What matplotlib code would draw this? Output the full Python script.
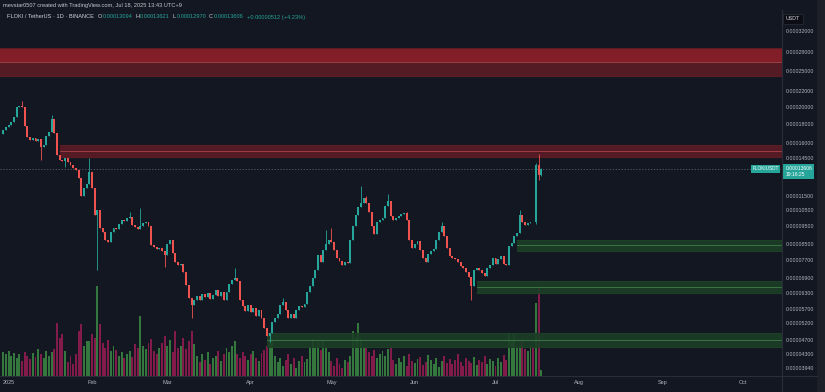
import numpy as np
import matplotlib
matplotlib.use('Agg')
import matplotlib.pyplot as plt
import matplotlib.dates as mdates
from matplotlib.ticker import FixedLocator, NullLocator
from matplotlib.patches import Rectangle

plt.rcParams['font.family'] = ['Liberation Sans', 'DejaVu Sans']

# daily candles FLOKI/USDT, 2024-12-30 .. 2025-07-18, prices in 1e-8 USDT
start_day = '2024-12-30'
first_open = 16900
close_e8 = [
    17300, 17630, 17850, 18180, 18760, 19960, 20090, 19960, 17740, 16560,
    16250, 16460, 16150, 16350, 15560, 15760, 16670, 17090, 18520, 16980,
    14810, 14355, 14270, 14540, 14180, 13920, 13660, 13490, 12840, 11480,
    12060, 12370, 13330, 12060, 10200, 10520, 9410, 9180, 8730, 8630,
    9180, 9410, 9350, 9650, 9885, 9820, 10010, 10075, 9590, 9470,
    9350, 9530, 9710, 9770, 9530, 8465, 8360, 8260, 8310, 8155,
    7960, 8520, 8730, 8060, 7615, 7475, 7520, 7160, 6605, 6090,
    5830, 6015, 6170, 6015, 6245, 6130, 6285, 6055, 6210, 6400,
    6170, 6320, 6015, 6320, 6645, 6810, 6895, 6770, 6015, 5795,
    5620, 5830, 5585, 5725, 5450, 5652, 5380, 5055, 4810, 4900,
    5250, 5380, 5515, 5830, 5940, 5652, 5380, 5515, 5380, 5652,
    5795, 5760, 5870, 6320, 6565, 6895, 7245, 7960, 7615, 8205,
    8520, 8730, 8630, 8205, 7810, 7665, 7475, 7615, 7560, 8730,
    9530, 10200, 10720, 10990, 11340, 10990, 10390, 9530, 9065, 9770,
    9885, 10010, 10790, 11125, 10140, 9885, 10010, 10140, 10265, 10330,
    9885, 8730, 8310, 8520, 8680, 8205, 7810, 7615, 8005, 8155,
    8260, 8730, 9180, 9530, 8955, 8310, 7910, 7810, 7760, 7615,
    7430, 7335, 7160, 6940, 6565, 7245, 7335, 7245, 7115, 6985,
    7335, 7475, 7810, 7520, 7760, 7910, 7520, 7475, 8410, 8575,
    8955, 9120, 10200, 9770, 9590, 9710, 9770, 9740, 13900, 13094,
    13606,
]
# visible wicks (candle index from start_day, price in 1e-8)
wick_hi_idx = [7, 18, 32, 47, 51, 86, 104, 120, 122, 133, 135, 143, 150, 163, 192, 198, 199, 200]
wick_hi_val = [20710, 18990, 14540, 10395, 10660, 7335, 6090, 9290, 9410, 12220, 11480, 11625,
               10395, 9765, 10520, 14100, 14900, 13621]
wick_lo_idx = [14, 23, 35, 60, 70, 99, 174, 198, 199, 200]
wick_lo_val = [14355, 13750, 7245, 7385, 5380, 4630, 6015, 9650, 12700, 12970]

volume = [
    24, 22, 25, 20, 23, 18, 22, 15, 24, 20, 17, 23, 19, 27,
    22, 18, 25, 20, 24, 27, 53, 38, 42, 25, 14, 20, 12, 22,
    45, 52, 30, 35, 35, 42, 38, 90, 52,
    33, 28, 36, 25, 30, 26, 20, 24, 18, 22, 25, 19, 32, 28, 60,
    30, 27, 33, 37, 25, 22, 28, 33, 40, 30, 36, 24, 45, 28,
    30, 38, 27, 35, 45, 32, 20, 14, 22, 16, 24, 12, 18,
    20, 25, 15, 22, 28, 24, 30, 35, 22, 18, 24, 20, 16, 22, 25, 18, 15, 23, 26,
    30, 40, 37, 20, 14, 18, 10, 16, 22, 12, 18, 8, 15, 20, 14, 17,
    28, 37, 30, 34, 26, 36, 29, 24, 15, 10, 18, 12, 8, 16, 14, 20,
    45, 38, 53, 37, 30, 28, 24, 20, 26, 18, 22, 25, 20, 27, 30,
    16, 12, 18, 14, 20, 10, 22, 15, 13, 17, 19, 11, 14, 21, 16, 12, 18, 9, 15, 20,
    13, 17, 12, 16, 22, 14, 10, 18, 15, 13, 19, 11, 16, 14, 20, 12, 17, 15, 10, 18,
    14, 21, 16, 42, 35, 42, 28, 30, 35, 27, 25, 30, 28, 73, 90, 6,
]

ytick_vals = [32000, 28000, 25000, 22000, 20000, 18000, 16000, 14500, 11500, 10500, 9500,
              8500, 7700, 6900, 6300, 5700, 5200, 4700, 4300, 3940]
month_dates = ['2025-01-01', '2025-02-01', '2025-03-01', '2025-04-01', '2025-05-01',
               '2025-06-01', '2025-07-01', '2025-08-01', '2025-09-01', '2025-10-01']
month_labels = ['2025', 'Feb', 'Mar', 'Apr', 'May', 'Jun', 'Jul', 'Aug', 'Sep', 'Oct']

# supply / demand boxes: start date, low, high, mid line (1e-8 USDT)
zone_start = ['2024-12-20', '2025-01-20', '2025-07-09', '2025-06-24', '2025-04-07']
zone_lo = [24190, 14625, 8155, 6285, 4490]
zone_hi = [28790, 15760, 8730, 6770, 4896]
zone_mid = [26390, 15180, 8465, 6525, 4692]
zone_kind = ['red', 'red', 'green', 'green', 'green']

last_price = 13606
header_ohlc = [('O', '0.00013094'), ('H', '0.00013621'), ('L', '0.00012970'), ('C', '0.00013606')]
header_change = '+0.00000512 (+4.23%)'

BG = '#131722'
UP, DN = '#26a69a', '#ef5350'
VUP, VDN = '#3a8a42', '#961c52'
TXT = '#b2b5be'
LINE = '#2a2e39'

W, H = 825, 392
def rect(x0, y0, x1, y1):
    return [x0 / W, 1 - y1 / H, (x1 - x0) / W, (y1 - y0) / H]

fig = plt.figure(figsize=(8.25, 3.92), dpi=100, facecolor=BG)
axv = fig.add_axes(rect(0, 10, 782, 376))
ax = fig.add_axes(rect(0, 10, 782, 376))
axv.set_facecolor(BG)
ax.set_facecolor('none')

c = np.array(close_e8, dtype=float)
o = np.r_[first_open, c[:-1]]
hi = np.maximum(o, c)
lo = np.minimum(o, c)
hi[wick_hi_idx] = wick_hi_val
lo[wick_lo_idx] = wick_lo_val
x = mdates.date2num(np.datetime64(start_day) + np.arange(len(c)))
up = c >= o
col = np.where(up, UP, DN)

xl = (mdates.date2num(np.datetime64('2024-12-28')) + 0.8,
      mdates.date2num(np.datetime64('2025-10-15')) + 0.5)

# volume
axv.bar(x, volume, width=0.72, color=np.where(up, VUP, VDN), linewidth=0, alpha=0.85)
axv.set_xlim(xl)
axv.set_ylim(0, max(volume) * 4.07)
axv.axis('off')

# zones
for s, l0, h0, m0, k in zip(zone_start, zone_lo, zone_hi, zone_mid, zone_kind):
    xs = [mdates.date2num(np.datetime64(s)), xl[1]]
    if k == 'red':
        fc, lc = '#5c1c25', '#a8434b'
    else:
        fc, lc = '#1c3f26', '#3f7f4a'
    ax.fill_between(xs, l0 * 1e-8, h0 * 1e-8, color=fc, alpha=0.9, lw=0, zorder=1)
    for yv in (l0, h0):
        ax.plot(xs, [yv * 1e-8] * 2, color=fc, lw=0.8, zorder=1.5)
    ax.plot(xs, [m0 * 1e-8] * 2, color=lc, lw=0.6, zorder=1.6)
# brighter upper half of the top box
ax.fill_between([xl[0], xl[1]], zone_mid[0] * 1e-8, zone_hi[0] * 1e-8,
                color='#8e1f29', alpha=0.8, lw=0, zorder=1.2)

# candles
ax.vlines(x, lo * 1e-8, hi * 1e-8, colors=col, lw=0.6, zorder=3)
top = np.maximum(np.maximum(o, c), np.minimum(o, c) * 1.004)
bot = np.minimum(o, c)
ax.bar(x, (top - bot) * 1e-8, bottom=bot * 1e-8, width=0.72, color=col, linewidth=0, zorder=3)

# last price line
ax.axhline(last_price * 1e-8, color='#5d606b', lw=0.6, ls=(0, (1.5, 2)), zorder=2)

ax.set_yscale('log')
ax.set_xlim(xl)
ax.set_ylim(3750e-8, 36460e-8)
ax.yaxis.set_major_locator(FixedLocator([v * 1e-8 for v in ytick_vals]))
ax.yaxis.set_minor_locator(NullLocator())
ax.set_yticklabels([f'{v * 1e-8:.8f}' for v in ytick_vals])
ax.yaxis.tick_right()
ax.tick_params(axis='y', length=0, pad=2.5, labelsize=3.8, labelcolor=TXT)
ax.set_xticks([mdates.date2num(np.datetime64(d)) for d in month_dates])
ax.set_xticklabels(month_labels)
ax.tick_params(axis='x', length=0, pad=3, labelsize=4.0, labelcolor=TXT)
for sp in ax.spines.values():
    sp.set_visible(False)

# price tags
ax.annotate(f'{last_price * 1e-8:.8f}\n19:16:25', xy=(1, last_price * 1e-8),
            xycoords=('axes fraction', 'data'), xytext=(2.5, -2.0), textcoords='offset points',
            ha='left', va='center', fontsize=3.6, color='white', linespacing=1.3,
            bbox=dict(boxstyle='square,pad=0.4', fc=UP, ec='none'), zorder=6)
ax.annotate('FLOKIUSDT', xy=(1, last_price * 1e-8), xycoords=('axes fraction', 'data'),
            xytext=(-2.5, 0), textcoords='offset points', ha='right', va='center',
            fontsize=3.4, color='white',
            bbox=dict(boxstyle='square,pad=0.3', fc=UP, ec='none'), zorder=6)

# frame lines
fig.add_artist(plt.Line2D([782 / W] * 2, [0, 1 - 10 / H], color=LINE, lw=0.8))
fig.add_artist(plt.Line2D([0, 817 / W], [1 - 376 / H] * 2, color=LINE, lw=0.8))
fig.add_artist(Rectangle((817 / W, 0), 8 / W, 1, transform=fig.transFigure,
                         fc='#1e2029', ec='none'))
fig.text(786 / W, 1 - 19 / H, 'USDT', fontsize=3.8, color='#d1d4dc', va='center', ha='left',
         bbox=dict(boxstyle='square,pad=0.5', fc='#0c0e14', ec='#2a2e39', lw=0.5))

# header
fig.text(3 / W, 1 - 6 / H, 'mevstar0507 created with TradingView.com, Jul 18, 2025 13:43 UTC+9',
         fontsize=4.1, color='#c8cad0', va='center')
renderer = fig.canvas.get_renderer()
hy = 1 - 17 / H
pieces = [('FLOKI / TetherUS \u00b7 1D \u00b7 BINANCE', '#d1d4dc', 3.5)]
for k, v in header_ohlc:
    pieces += [(k, '#d1d4dc', 0.6), (v, UP, 3.0)]
pieces.append((header_change, UP, 0))
xpos = 7.0
for s, colr, gap in pieces:
    t = fig.text(xpos / W, hy, s, fontsize=4.1, color=colr, va='center')
    xpos = t.get_window_extent(renderer).x1 + gap

fig.savefig('out.png', dpi=100, facecolor=BG)
